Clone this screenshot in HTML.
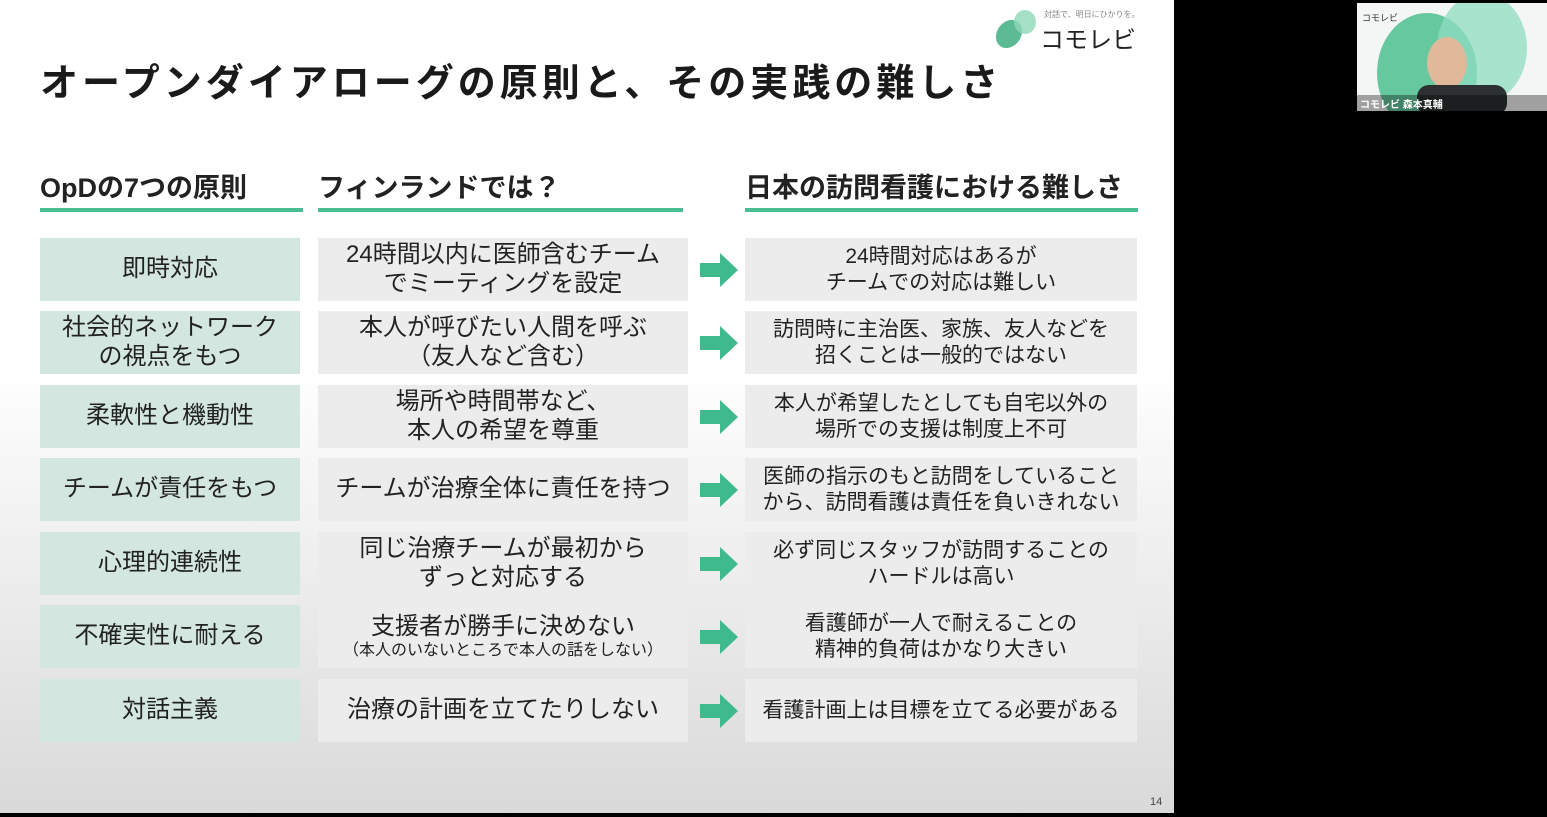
<!DOCTYPE html>
<html><head><meta charset="utf-8"><style>
*{margin:0;padding:0;box-sizing:border-box}
body{width:1547px;height:817px;background:#000;position:relative;overflow:hidden;font-family:"Liberation Sans","Noto Sans CJK JP",sans-serif}
#slide{position:absolute;left:0;top:0;width:1174px;height:813px;background:linear-gradient(#fff 0%,#fff 45%,#d9d9d9 100%)}
.t{position:absolute;left:40px;top:52px;font-size:38px;font-weight:bold;color:#1a1a1a;white-space:nowrap;letter-spacing:4px}
.h{position:absolute;top:166px;font-size:27px;font-weight:bold;color:#222;white-space:nowrap;height:46px;border-bottom:4px solid #4bbd93}
.c{position:absolute;height:63px;display:flex;flex-direction:column;align-items:center;justify-content:center;text-align:center;color:#222;line-height:1.2;white-space:nowrap}
.c1{left:40px;width:260px;background:#d3e6df;font-size:24px}
.c2{left:318px;width:370px;background:#ececec;font-size:24px}
.c3{left:745px;width:392px;background:#ececec;font-size:21px}
.ar{position:absolute;left:700px;width:38px;height:34px}
small{font-size:16px}
</style></head><body>
<div id="slide">
<div class="t">オープンダイアローグの原則と、その実践の難しさ</div>
<svg style="position:absolute;left:993px;top:6px" width="50" height="44"><ellipse cx="16" cy="28" rx="12" ry="15" transform="rotate(35 16 28)" fill="#3fae82" opacity=".85"/><ellipse cx="32" cy="16" rx="11" ry="12" fill="#8fd7b8" opacity=".8"/></svg>
<div style="position:absolute;left:1044px;top:9px;font-size:8px;color:#888">対話で、明日にひかりを。</div>
<div style="position:absolute;left:1040px;top:20px;font-size:24px;color:#222">コモレビ</div>
<div class="h" style="left:40px;width:263px">OpDの7つの原則</div>
<div class="h" style="left:318px;width:365px">フィンランドでは？</div>
<div class="h" style="left:745px;width:393px">日本の訪問看護における難しさ</div>

<div class="c c1" style="top:238px">即時対応</div>
<div class="c c2" style="top:238px">24時間以内に医師含むチーム<br>でミーティングを設定</div>
<div class="c c3" style="top:238px">24時間対応はあるが<br>チームでの対応は難しい</div>

<div class="c c1" style="top:311px">社会的ネットワーク<br>の視点をもつ</div>
<div class="c c2" style="top:311px">本人が呼びたい人間を呼ぶ<br>（友人など含む）</div>
<div class="c c3" style="top:311px">訪問時に主治医、家族、友人などを<br>招くことは一般的ではない</div>

<div class="c c1" style="top:385px">柔軟性と機動性</div>
<div class="c c2" style="top:385px">場所や時間帯など、<br>本人の希望を尊重</div>
<div class="c c3" style="top:385px">本人が希望したとしても自宅以外の<br>場所での支援は制度上不可</div>

<div class="c c1" style="top:458px">チームが責任をもつ</div>
<div class="c c2" style="top:458px">チームが治療全体に責任を持つ</div>
<div class="c c3" style="top:458px">医師の指示のもと訪問をしていること<br>から、訪問看護は責任を負いきれない</div>

<div class="c c1" style="top:532px">心理的連続性</div>
<div class="c c2" style="top:532px">同じ治療チームが最初から<br>ずっと対応する</div>
<div class="c c3" style="top:532px">必ず同じスタッフが訪問することの<br>ハードルは高い</div>

<div class="c c1" style="top:605px">不確実性に耐える</div>
<div class="c c2" style="top:605px">支援者が勝手に決めない<br><small>（本人のいないところで本人の話をしない）</small></div>
<div class="c c3" style="top:605px">看護師が一人で耐えることの<br>精神的負荷はかなり大きい</div>

<div class="c c1" style="top:679px">対話主義</div>
<div class="c c2" style="top:679px">治療の計画を立てたりしない</div>
<div class="c c3" style="top:679px">看護計画上は目標を立てる必要がある</div>

<svg class="ar" style="top:253px" viewBox="0 0 38 34"><polygon points="0,10 20,10 20,0 38,17 20,34 20,24 0,24" fill="#3fba8c"/></svg>
<svg class="ar" style="top:326px" viewBox="0 0 38 34"><polygon points="0,10 20,10 20,0 38,17 20,34 20,24 0,24" fill="#3fba8c"/></svg>
<svg class="ar" style="top:400px" viewBox="0 0 38 34"><polygon points="0,10 20,10 20,0 38,17 20,34 20,24 0,24" fill="#3fba8c"/></svg>
<svg class="ar" style="top:473px" viewBox="0 0 38 34"><polygon points="0,10 20,10 20,0 38,17 20,34 20,24 0,24" fill="#3fba8c"/></svg>
<svg class="ar" style="top:547px" viewBox="0 0 38 34"><polygon points="0,10 20,10 20,0 38,17 20,34 20,24 0,24" fill="#3fba8c"/></svg>
<svg class="ar" style="top:620px" viewBox="0 0 38 34"><polygon points="0,10 20,10 20,0 38,17 20,34 20,24 0,24" fill="#3fba8c"/></svg>
<svg class="ar" style="top:694px" viewBox="0 0 38 34"><polygon points="0,10 20,10 20,0 38,17 20,34 20,24 0,24" fill="#3fba8c"/></svg>
<div style="position:absolute;left:1150px;top:796px;font-size:11px;color:#444">14</div>
</div>

<div style="position:absolute;left:1357px;top:3px;width:190px;height:108px;background:#f4f6f5;overflow:hidden">
<svg width="190" height="108" style="position:absolute;left:0;top:0"><ellipse cx="70" cy="70" rx="50" ry="60" fill="#4cbf8f" opacity=".85"/><ellipse cx="125" cy="45" rx="45" ry="55" fill="#8fdcc0" opacity=".75"/><ellipse cx="90" cy="60" rx="20" ry="26" fill="#e0b89a"/><rect x="60" y="82" width="90" height="30" rx="12" fill="#2c3030"/><rect x="0" y="92" width="190" height="16" fill="rgba(0,0,0,.35)"/></svg>
<div style="position:absolute;left:5px;top:8px;font-size:9px;color:#333">コモレビ</div>
<div style="position:absolute;left:3px;top:93px;font-size:10px;color:#fff;font-weight:bold">コモレビ 森本真輔</div>
</div>
</body></html>
